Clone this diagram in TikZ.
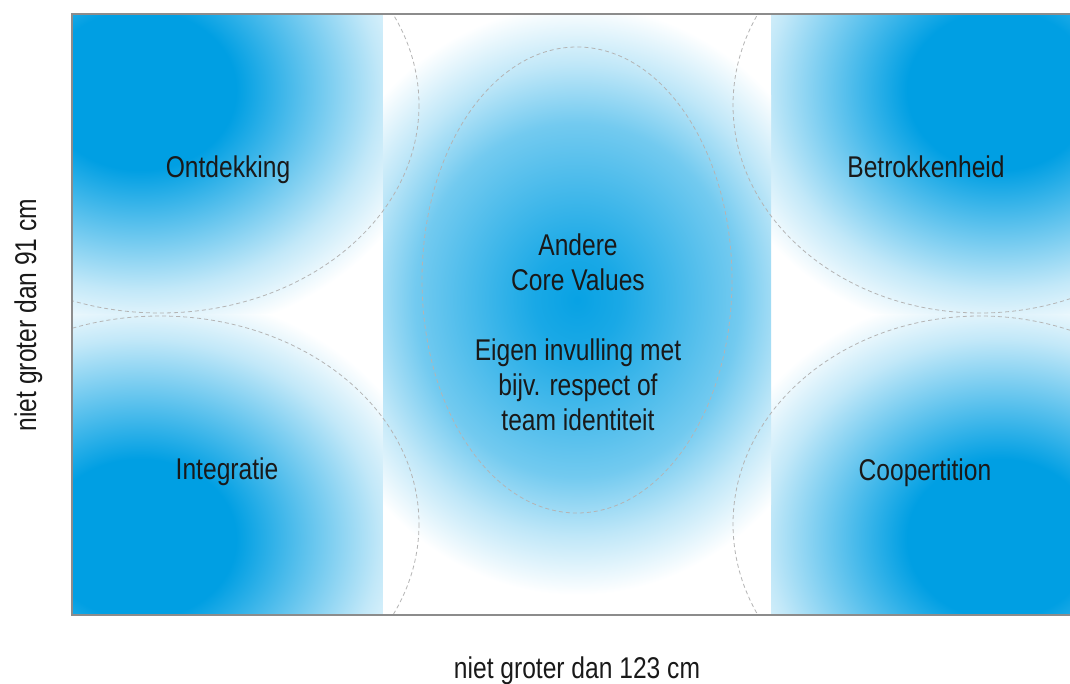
\documentclass[tikz,border=0pt]{standalone}
\usepackage{fontspec}
\setmainfont{Liberation Sans}[FakeStretch=0.82]
\definecolor{cblue}{HTML}{009FE3}
\definecolor{dashgray}{HTML}{B4B4B4}
\definecolor{framegray}{HTML}{8C8C8C}
\pgfdeclareradialshading{blob}{\pgfpoint{0bp}{0bp}}{color(0bp)=(cblue); color(8bp)=(cblue); color(14bp)=(cblue!62); color(20bp)=(cblue!24); color(25bp)=(white); color(50bp)=(white)}
\pgfdeclareradialshading{core}{\pgfpoint{0bp}{0bp}}{color(0bp)=(cblue!97); color(4bp)=(cblue!90); color(15bp)=(cblue!55); color(20bp)=(cblue!25); color(25bp)=(white); color(50bp)=(white)}
\tikzset{
  dashline/.style={draw=dashgray, line width=0.8pt, dash pattern=on 4pt off 3pt},
  label/.style={font=\fontsize{30}{35}\selectfont, text=black!90, align=center, inner sep=0pt},
  framel/.style={draw=framegray, line width=1.5pt},
}
\begin{document}
\begin{tikzpicture}[x=1pt,y=-1pt]
\useasboundingbox (0,0) rectangle (1070,684);
\fill[white] (72,14) rectangle (1070,615);
% corner blobs, each kept to its own half
\begin{scope}
  \clip (72,14) rectangle (1070,314.5);
  \shade[shading=blob] (140,90) ellipse [x radius=300, y radius=250];
  \shade[shading=blob] (1000,90) ellipse [x radius=290, y radius=250];
\end{scope}
\begin{scope}
  \clip (72,314.5) rectangle (1070,615);
  \shade[shading=blob] (140,539) ellipse [x radius=300, y radius=250];
  \shade[shading=blob] (1000,539) ellipse [x radius=290, y radius=250];
\end{scope}
% central band
\begin{scope}
  \clip (383,14) rectangle (771,615);
  \fill[white] (383,14) rectangle (771,615);
  \shade[shading=core] (577,300) ellipse [x radius=270, y radius=295];
\end{scope}
% dashed outlines
\begin{scope}
  \clip (72,14) rectangle (1070,615);
  \draw[dashline] (160,105) ellipse [x radius=259, y radius=208];
  \draw[dashline] (160,524) ellipse [x radius=259, y radius=208];
  \draw[dashline] (980,105) ellipse [x radius=247, y radius=208];
  \draw[dashline] (980,524) ellipse [x radius=247, y radius=208];
  \draw[dashline] (577,280) ellipse [x radius=155, y radius=233];
\end{scope}
% frame
\coordinate (tl) at (72,14);
\coordinate (tr) at (1070,14);
\coordinate (bl) at (72,615);
\coordinate (br) at (1070,615);
\draw[framel] (tr) -- (tl) -- (bl) -- (br);
% labels
\node[label, anchor=base] (ont) at (228,178) {Ontdekking};
\node[label, anchor=base] (bet) at (926,178) {Betrokkenheid};
\node[label, anchor=base] (int) at (227,479) {Integratie};
\node[label, anchor=base] (coo) at (925,480) {Coopertition};
\node[label, anchor=base] (and) at (578,430) {Andere\\Core Values\\[35pt]Eigen invulling met\\bijv. respect of\\team identiteit};
\node[label, anchor=base] (w) at (577,678) {niet groter dan 123 cm};
\node[label, anchor=base, rotate=90] (h) at (36,315) {niet groter dan 91 cm};
\end{tikzpicture}
\end{document}
